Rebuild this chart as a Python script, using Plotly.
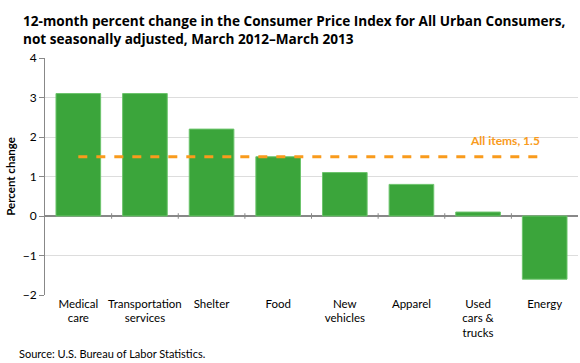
import plotly.graph_objects as go

categories = ["Medical<br>care", "Transportation<br>services", "Shelter", "Food",
              "New<br>vehicles", "Apparel", "Used<br>cars &<br>trucks", "Energy"]
values = [3.1, 3.1, 2.2, 1.5, 1.1, 0.8, 0.1, -1.6]
all_items = 1.5
y_ticks = [-2, -1, 0, 1, 2, 3, 4]

title = ("12-month percent change in the Consumer Price Index for All Urban Consumers,<br>"
         "not seasonally adjusted, March 2012\u2013March 2013")
source = "Source: U.S. Bureau of Labor Statistics."

GREEN = "#3BA53B"
ORANGE = "#F99B1C"
FONT = "Lato"

idx = list(range(len(categories)))

fig = go.Figure()
fig.add_trace(go.Bar(x=idx, y=values, width=0.67,
                     marker=dict(color=GREEN, line=dict(color="#6CC46C", width=1)),
                     hoverinfo="skip"))
fig.add_trace(go.Scatter(x=[idx[0], idx[-1]], y=[all_items, all_items], mode="lines",
                         line=dict(color=ORANGE, width=3, dash="dash"), hoverinfo="skip"))

# category boundary tick marks on the zero line
for b in range(1, len(categories)):
    fig.add_shape(type="line", x0=b - 0.5, x1=b - 0.5, y0=-0.07, y1=0.07,
                  xref="x", yref="y", line=dict(color="#888888", width=1))

fig.add_annotation(x=6.4, y=all_items, text=f"All items, {all_items}", showarrow=False,
                   yshift=16, font=dict(family=FONT, size=12, color=ORANGE, weight="bold"))

fig.add_annotation(x=0, y=1, xref="paper", yref="paper", xanchor="left", yanchor="bottom",
                   align="left", text=title, showarrow=False, xshift=-24, yshift=8,
                   font=dict(family="Open Sans", size=13.6, color="#000", weight="bold"))

fig.add_annotation(x=0, y=0, xref="paper", yref="paper", xanchor="left", yanchor="bottom",
                   text=source, showarrow=False, font=dict(family=FONT, size=11, color="#000"),
                   xshift=-28, yshift=-67)

fig.update_layout(
    width=580, height=363,
    margin=dict(l=45, r=2, t=58, b=68),
    plot_bgcolor="white", paper_bgcolor="white",
    showlegend=False,
    xaxis=dict(tickvals=idx, ticktext=categories, range=[-0.5, len(categories) - 0.5],
               showgrid=False, zeroline=False, showline=False, ticks="",
               tickfont=dict(family=FONT, size=11.5, color="#000")),
    yaxis=dict(range=[-2, 4], tickvals=y_ticks, showgrid=True, gridcolor="#DDDDDD",
               zeroline=True, zerolinecolor="#888888", zerolinewidth=1.5,
               showline=True, linecolor="#888888", linewidth=1, ticks="outside",
               ticklen=5, tickcolor="#888888",
               tickfont=dict(family=FONT, size=12, color="#000"),
               title=dict(text="<b>Percent change</b>", standoff=4,
                          font=dict(family=FONT, size=11.5, color="#000"))),
)

fig.write_html("out.html", config={"displayModeBar": False},
               post_script="document.body.style.margin='0';")
